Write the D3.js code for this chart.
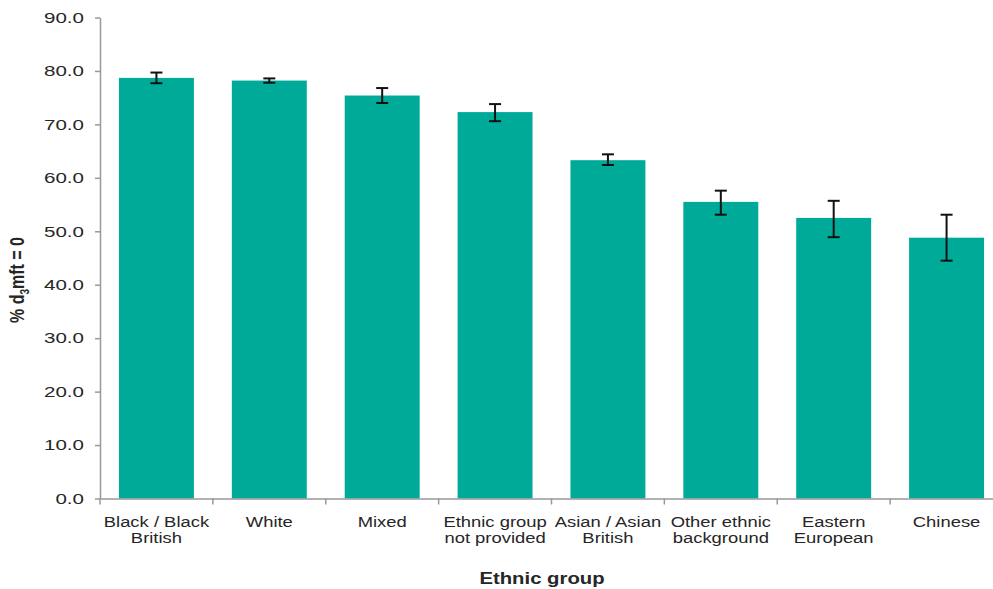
<!DOCTYPE html>
<html>
<head>
<meta charset="utf-8">
<script src="https://cdn.jsdelivr.net/npm/d3@7/dist/d3.min.js"></script>
<style>
  html, body { margin: 0; padding: 0; background: #fff; }
  svg { display: block; font-family: "Liberation Sans", Arial, sans-serif; }
</style>
</head>
<body>
<svg id="chart" width="993" height="589"></svg>
<script>
// Ethnic groups, in plotted order
const categories = [
  ["Black / Black", "British"],
  ["White"],
  ["Mixed"],
  ["Ethnic group", "not provided"],
  ["Asian / Asian", "British"],
  ["Other ethnic", "background"],
  ["Eastern", "European"],
  ["Chinese"]
];
// % d3mft = 0 and 95% confidence limits
const values = [78.7, 78.2, 75.4, 72.3, 63.3, 55.5, 52.5, 48.8];
const lower  = [77.7, 77.8, 74.0, 70.6, 62.4, 53.1, 48.9, 44.5];
const upper  = [79.7, 78.6, 76.8, 73.8, 64.4, 57.6, 55.7, 53.1];
const yTicks = [0, 10, 20, 30, 40, 50, 60, 70, 80, 90];

const svg = d3.select("#chart");
const stretch = 1.27;      // horizontal stretch of the lettering
const axisColor = "#999";
const textColor = "#262626";
const barColor = "#00aa99";

const keys = categories.map(c => c.join(" "));
const data = keys.map((k, i) => ({ key: k, lines: categories[i], v: values[i], lo: lower[i], hi: upper[i] }));

const x = d3.scaleBand().domain(keys).range([100, 1003]).paddingInner(0.336).paddingOuter(0.168);
const y = d3.scaleLinear().domain([0, 90]).range([498.5, 17.5]);

// bars
svg.append("g").selectAll("rect").data(data).join("rect")
  .attr("x", d => x(d.key))
  .attr("y", d => y(d.v))
  .attr("width", x.bandwidth())
  .attr("height", d => y(0) - y(d.v))
  .attr("fill", barColor);

// error bars
const eb = svg.append("g").attr("stroke", "#111").attr("stroke-width", 2).attr("fill", "none");
data.forEach(d => {
  const cx = x(d.key) + x.bandwidth() / 2;
  eb.append("line").attr("x1", cx).attr("x2", cx).attr("y1", y(d.hi)).attr("y2", y(d.lo));
  eb.append("line").attr("x1", cx - 6).attr("x2", cx + 6).attr("y1", y(d.hi)).attr("y2", y(d.hi));
  eb.append("line").attr("x1", cx - 6).attr("x2", cx + 6).attr("y1", y(d.lo)).attr("y2", y(d.lo));
});

// y axis
const yAxis = svg.append("g").attr("transform", "translate(100,0)")
  .call(d3.axisLeft(y).tickValues(yTicks).tickFormat(d3.format(".1f")).tickSize(5).tickSizeOuter(0));
yAxis.select(".domain").attr("stroke", axisColor).attr("stroke-width", 1.5);
yAxis.selectAll(".tick line").attr("stroke", axisColor).attr("stroke-width", 1.5);
yAxis.selectAll(".tick text")
  .attr("fill", textColor)
  .attr("font-size", 15)
  .attr("font-family", "Liberation Sans, Arial, sans-serif")
  .attr("x", -16 / 1.37)
  .attr("transform", "scale(1.37,1)");

// x axis
const xAxis = svg.append("g").attr("transform", `translate(0,${y(0)})`)
  .call(d3.axisBottom(x).tickSize(0).tickSizeOuter(0).tickFormat(""));
xAxis.select(".domain").attr("stroke", axisColor).attr("stroke-width", 1.5);
const bounds = keys.map(k => x(k) - (x.step() - x.bandwidth()) / 2);
bounds.push(bounds[bounds.length - 1] + x.step());
xAxis.selectAll(".bound").data(bounds).join("line")
  .attr("class", "bound")
  .attr("x1", d => d).attr("x2", d => d)
  .attr("y1", 0).attr("y2", 6)
  .attr("stroke", axisColor).attr("stroke-width", 1.5);

// category labels (one or two lines each)
const lab = svg.append("g").attr("fill", textColor).attr("font-size", 14.5).attr("text-anchor", "middle");
data.forEach(d => {
  const cx = x(d.key) + x.bandwidth() / 2;
  const t = lab.append("text").attr("transform", `translate(${cx},527) scale(${stretch},1)`);
  d.lines.forEach((line, j) => {
    t.append("tspan").attr("x", 0).attr("y", j * 16.5).text(line);
  });
});

// axis titles
svg.append("text")
  .attr("transform", `translate(542,584) scale(${stretch},1)`)
  .attr("text-anchor", "middle")
  .attr("font-size", 16).attr("font-weight", "bold").attr("fill", textColor)
  .text("Ethnic group");

const yt = svg.append("text")
  .attr("transform", `translate(24,280) scale(${stretch},1) rotate(-90)`)
  .attr("text-anchor", "middle")
  .attr("font-size", 16).attr("font-weight", "bold").attr("fill", textColor);
yt.append("tspan").text("% d");
yt.append("tspan").attr("font-size", 10).attr("dy", 4).text("3");
yt.append("tspan").attr("dy", -4).text("mft = 0");
</script>
</body>
</html>
